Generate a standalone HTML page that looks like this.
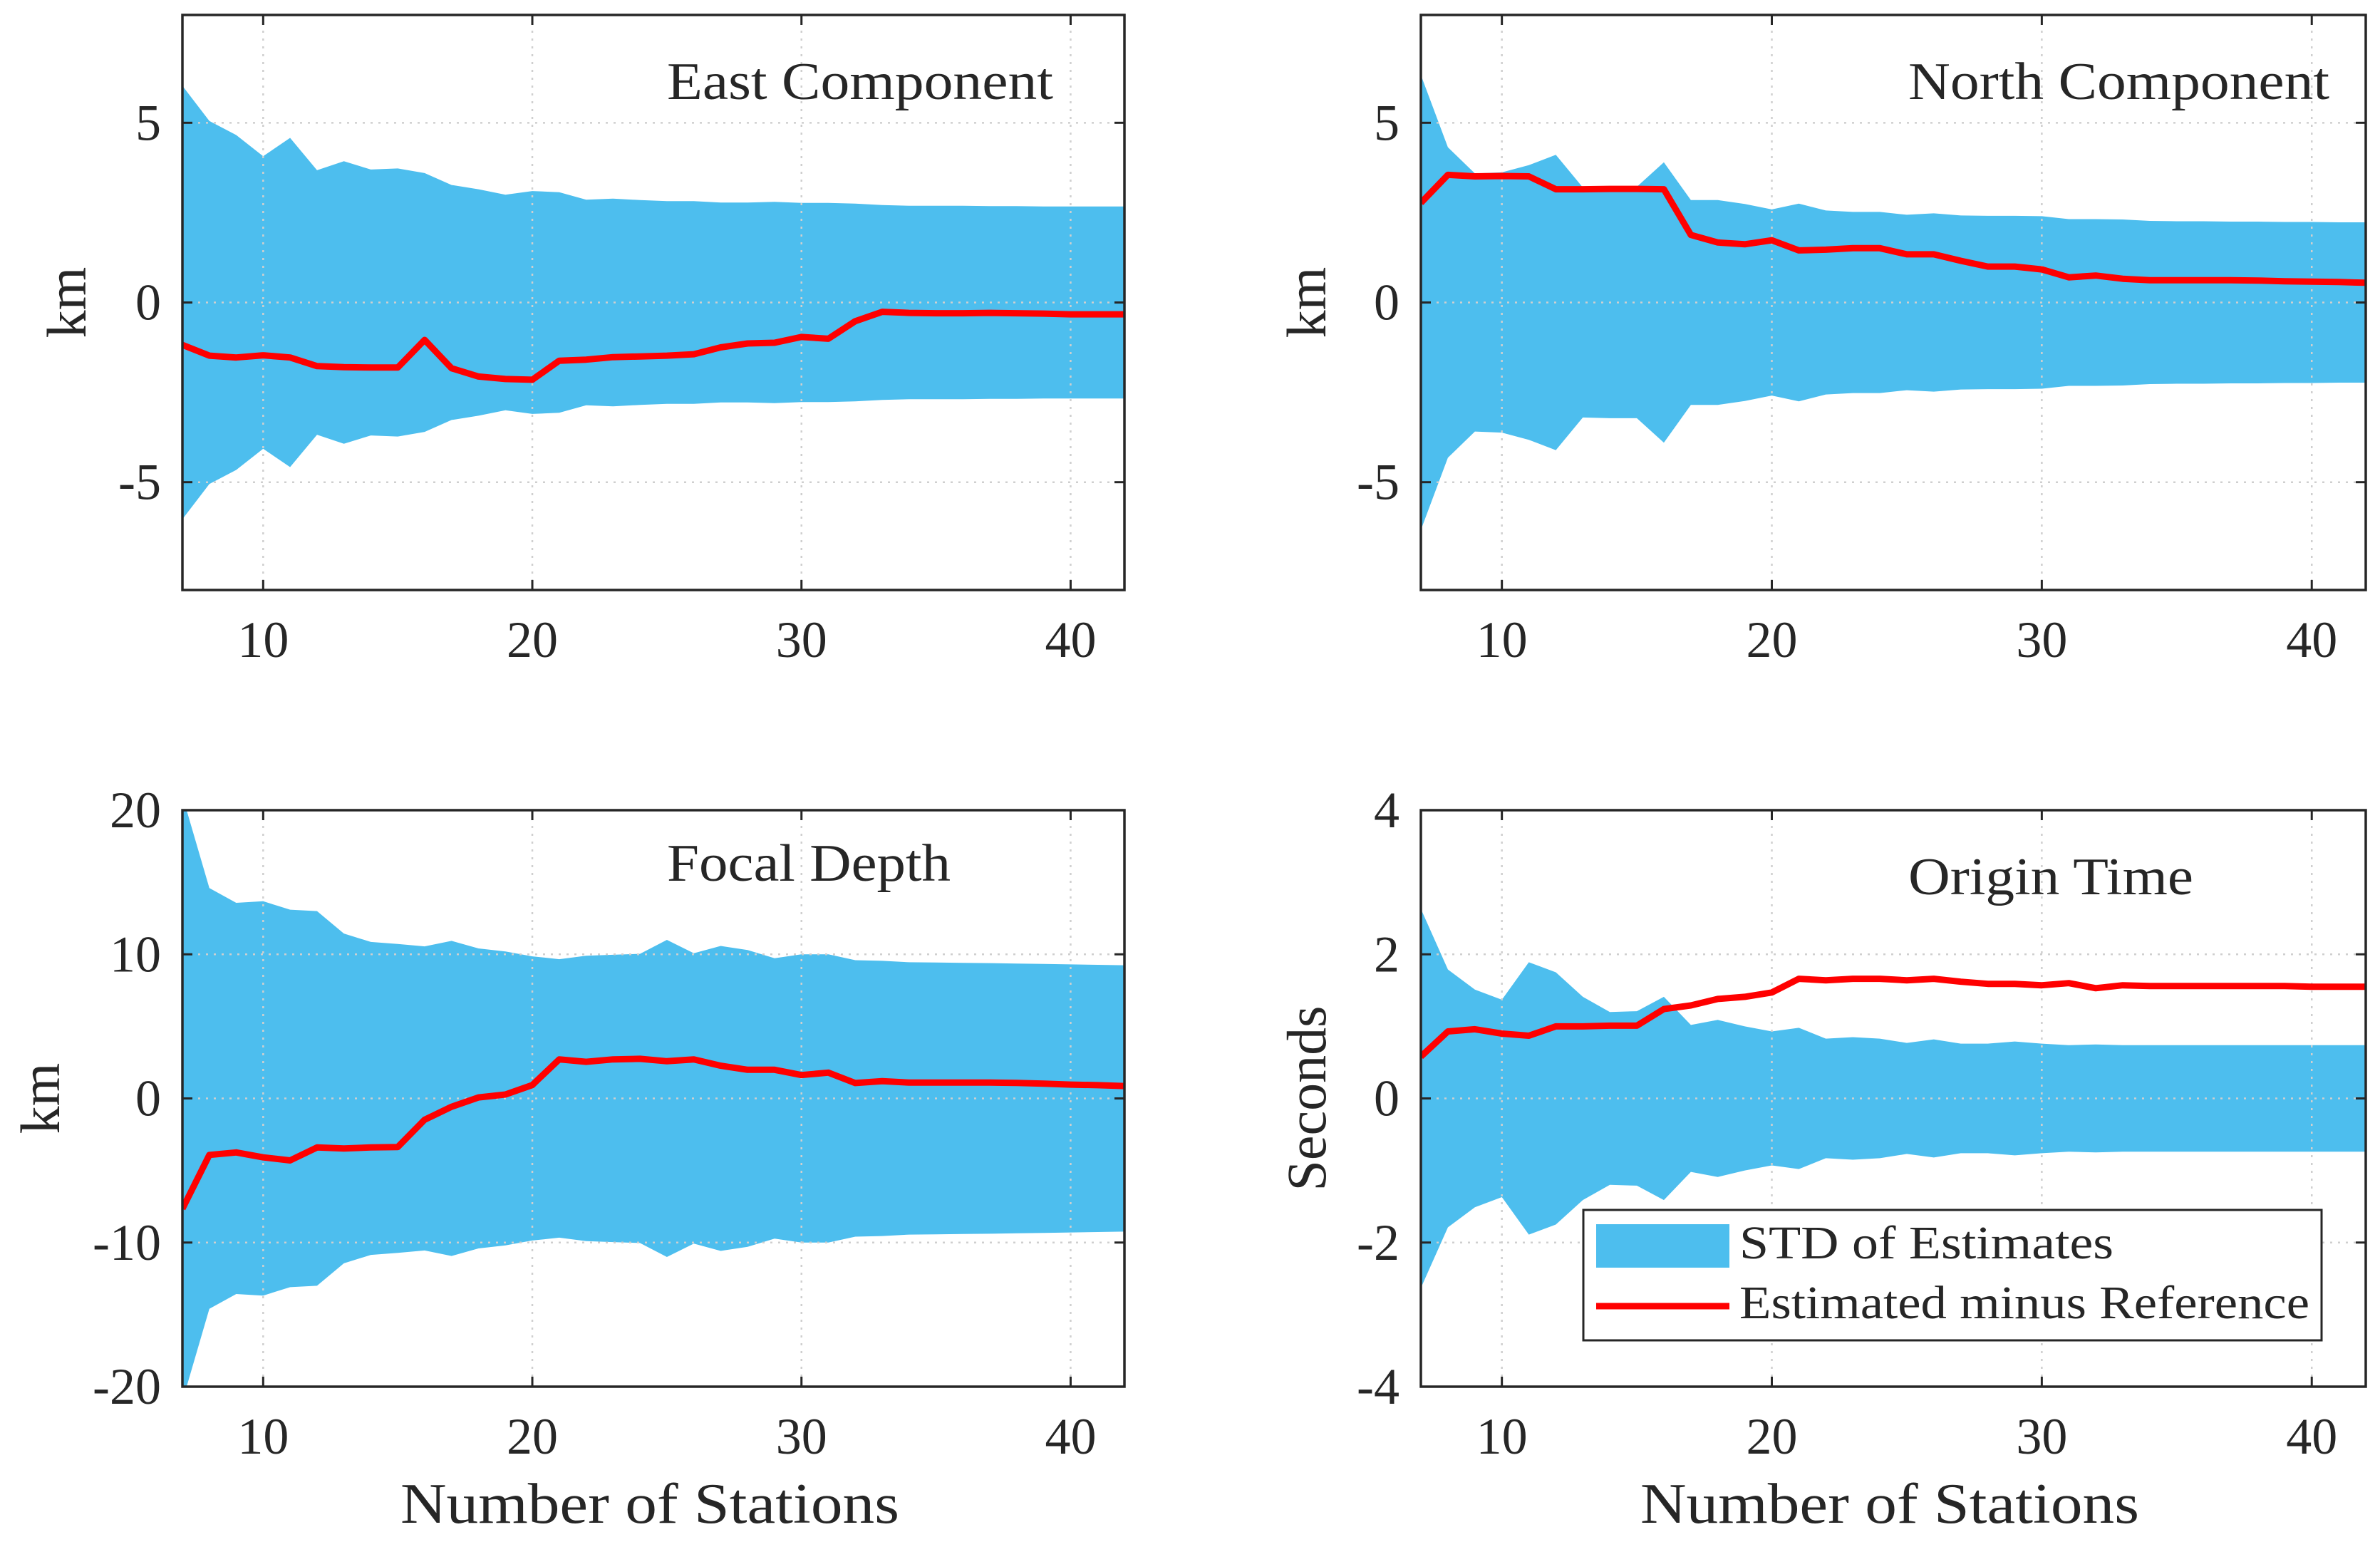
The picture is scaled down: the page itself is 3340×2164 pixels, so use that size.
<!DOCTYPE html>
<html><head><meta charset="utf-8"><style>
html,body{margin:0;padding:0;background:#fff}
svg{display:block}
text{font-family:"Liberation Serif",serif;fill:#262626}
</style></head><body>
<svg id="fig" width="3340" height="2164" viewBox="0 0 3340 2164" xmlns="http://www.w3.org/2000/svg"></svg>
<script>
const stations = [7,8,9,10,11,12,13,14,15,16,17,18,19,20,21,22,23,24,25,26,27,28,29,30,31,32,33,34,35,36,37,38,39,40,41,42];
const xTicks = [10,20,30,40];
const eastStd = [6.03,5.05,4.66,4.07,4.58,3.68,3.93,3.70,3.73,3.60,3.27,3.15,3.00,3.10,3.07,2.86,2.89,2.85,2.82,2.82,2.78,2.78,2.80,2.77,2.77,2.75,2.71,2.69,2.69,2.69,2.68,2.68,2.67,2.67,2.67,2.67];
const eastDiff = [-1.18,-1.48,-1.53,-1.47,-1.53,-1.77,-1.80,-1.81,-1.81,-1.04,-1.83,-2.06,-2.13,-2.15,-1.62,-1.59,-1.52,-1.50,-1.48,-1.44,-1.25,-1.14,-1.12,-0.96,-1.01,-0.52,-0.26,-0.29,-0.30,-0.30,-0.29,-0.30,-0.31,-0.33,-0.33,-0.33];
const northStd = [6.33,4.32,3.59,3.62,3.82,4.11,3.20,3.22,3.22,3.90,2.85,2.85,2.74,2.59,2.75,2.56,2.52,2.52,2.44,2.48,2.42,2.41,2.41,2.40,2.32,2.32,2.31,2.27,2.26,2.26,2.25,2.25,2.24,2.24,2.23,2.23];
const northDiff = [2.77,3.55,3.51,3.52,3.51,3.15,3.15,3.16,3.16,3.15,1.88,1.67,1.62,1.73,1.45,1.47,1.51,1.51,1.34,1.34,1.16,1.00,1.00,0.92,0.70,0.75,0.66,0.62,0.62,0.62,0.62,0.61,0.59,0.58,0.57,0.55];
const depthStd = [21,14.6,13.57,13.68,13.1,13.0,11.44,10.86,10.72,10.55,10.93,10.41,10.2,9.86,9.66,9.9,9.97,10.03,11.0,10.07,10.58,10.3,9.73,10.0,10.0,9.59,9.55,9.45,9.43,9.41,9.39,9.36,9.33,9.30,9.27,9.24];
const depthDiff = [-7.66,-3.92,-3.75,-4.09,-4.30,-3.40,-3.47,-3.40,-3.37,-1.48,-0.58,0.07,0.27,0.93,2.71,2.54,2.71,2.75,2.58,2.71,2.27,1.99,1.99,1.62,1.79,1.07,1.20,1.10,1.10,1.10,1.10,1.08,1.03,0.96,0.92,0.86];
const timeStd = [2.63,1.79,1.51,1.37,1.89,1.75,1.41,1.20,1.21,1.41,1.02,1.09,1.00,0.93,0.98,0.83,0.85,0.83,0.77,0.82,0.76,0.76,0.79,0.76,0.74,0.75,0.74,0.74,0.74,0.74,0.74,0.74,0.74,0.74,0.74,0.74];
const timeDiff = [0.58,0.93,0.96,0.90,0.87,1.00,1.00,1.01,1.01,1.24,1.29,1.38,1.41,1.47,1.66,1.64,1.66,1.66,1.64,1.66,1.62,1.59,1.59,1.57,1.60,1.53,1.57,1.56,1.56,1.56,1.56,1.56,1.56,1.55,1.55,1.55];
const kmTicks = [-5,0,5];
const depthTicks = [-20,-10,0,10,20];
const timeTicks = [-4,-2,0,2,4];

const NS = "http://www.w3.org/2000/svg";
const svg = document.getElementById('fig');
function mk(tag, attrs, parent){
  const e = document.createElementNS(NS, tag);
  for (const k in attrs) e.setAttribute(k, attrs[k]);
  (parent||svg).appendChild(e);
  return e;
}

const panels = [
  {id:'east', L:256, R:1578, T:21, B:828, ymin:-8, ymax:8, yt:kmTicks, std:eastStd, diff:eastDiff, title:'East Component', tx:936, ty:139, tw:542, ylab:'km', ylx:92, xlab:false},
  {id:'north', L:1994, R:3320, T:21, B:828, ymin:-8, ymax:8, yt:kmTicks, std:northStd, diff:northDiff, title:'North Component', tx:2678, ty:139, tw:591, ylab:'km', ylx:1832, xlab:false},
  {id:'depth', L:256, R:1578, T:1137, B:1946, ymin:-20, ymax:20, yt:depthTicks, std:depthStd, diff:depthDiff, title:'Focal Depth', tx:936, ty:1236, tw:398, ylab:'km', ylx:55, xlab:true},
  {id:'time', L:1994, R:3320, T:1137, B:1946, ymin:-4, ymax:4, yt:timeTicks, std:timeStd, diff:timeDiff, title:'Origin Time', tx:2678, ty:1255, tw:400, ylab:'Seconds', ylx:1832, xlab:true}
];

panels.forEach(p => {
  const g = mk('g', {});
  
  
  const xs = v => p.L + (v - 7) / (42 - 7) * (p.R - p.L);
  const ys = v => p.B - (v - p.ymin) / (p.ymax - p.ymin) * (p.B - p.T);
  const cp = mk('clipPath', {id:'clip-' + p.id}, g);
  mk('rect', {x:p.L, y:p.T, width:p.R-p.L, height:p.B-p.T}, cp);
  let pts = stations.map((s,i) => xs(s).toFixed(1) + ',' + ys(p.std[i]).toFixed(1));
  for (let i = stations.length - 1; i >= 0; i--) pts.push(xs(stations[i]).toFixed(1) + ',' + ys(-p.std[i]).toFixed(1));
  const band = mk('polygon', {points:pts.join(' '), fill:'#4DBEEE', 'clip-path':'url(#clip-' + p.id + ')'}, g);
  
  
  xTicks.forEach(t => {
    const gl = mk('line', {x1:xs(t), x2:xs(t), y1:p.T, y2:p.B, stroke:'#cfcfcf', 'stroke-width':2.5, 'stroke-dasharray':'3 8'}, g);
    
    
  });
  p.yt.forEach(t => {
    if (t <= p.ymin || t >= p.ymax) return;
    const gl = mk('line', {x1:p.L, x2:p.R, y1:ys(t), y2:ys(t), stroke:'#cfcfcf', 'stroke-width':2.5, 'stroke-dasharray':'3 8'}, g);
    
    
  });
  const lp = stations.map((s,i) => xs(s).toFixed(1) + ',' + ys(p.diff[i]).toFixed(1)).join(' ');
  const line = mk('polyline', {points:lp, fill:'none', stroke:'#FF0000', 'stroke-width':9, 'stroke-linejoin':'round', 'clip-path':'url(#clip-' + p.id + ')'}, g);
  
  
  const box = mk('rect', {x:p.L, y:p.T, width:p.R-p.L, height:p.B-p.T, fill:'none', stroke:'#262626', 'stroke-width':3.5}, g);
  
  
  xTicks.forEach(t => {
    mk('line', {x1:xs(t), x2:xs(t), y1:p.B, y2:p.B-14, stroke:'#262626', 'stroke-width':3}, g);
    mk('line', {x1:xs(t), x2:xs(t), y1:p.T, y2:p.T+14, stroke:'#262626', 'stroke-width':3}, g);
    const tl = mk('text', {x:xs(t), y:p.B + 94, 'font-size':72, 'text-anchor':'middle'}, g);
    tl.textContent = t;
    
    
  });
  p.yt.forEach(t => {
    mk('line', {x1:p.L, x2:p.L+14, y1:ys(t), y2:ys(t), stroke:'#262626', 'stroke-width':3}, g);
    mk('line', {x1:p.R, x2:p.R-14, y1:ys(t), y2:ys(t), stroke:'#262626', 'stroke-width':3}, g);
    const tl = mk('text', {x:p.L - 30, y:ys(t) + 24, 'font-size':72, 'text-anchor':'end'}, g);
    tl.textContent = t;
    
    
  });
  const ti = mk('text', {x:p.tx, y:p.ty, 'font-size':74, textLength:p.tw, lengthAdjust:'spacingAndGlyphs', fill:'#000'}, g);
  ti.textContent = p.title;
  
  
  const cy = (p.T + p.B) / 2;
  const yl = mk('text', {x:0, y:0, 'font-size':78, 'text-anchor':'middle', transform:'translate(' + (p.ylx + 28) + ',' + cy + ') rotate(-90)'}, g);
  yl.textContent = p.ylab;
  
  
  if (p.xlab) {
    const xl = mk('text', {x:(p.L + p.R) / 2 - 5, y:2137, 'font-size':80, 'text-anchor':'middle', textLength:700, lengthAdjust:'spacingAndGlyphs'}, g);
    xl.textContent = 'Number of Stations';
    
    
  }
});

const lg = mk('g', {});


mk('rect', {x:2222, y:1698, width:1036, height:183, fill:'#fff', stroke:'#262626', 'stroke-width':3}, lg);
const lp1 = mk('rect', {x:2240, y:1718, width:187, height:61, fill:'#4DBEEE'}, lg);


const lt1 = mk('text', {x:2441, y:1766, 'font-size':66, textLength:525, lengthAdjust:'spacingAndGlyphs', fill:'#000'}, lg);
lt1.textContent = 'STD of Estimates';


const lp2 = mk('line', {x1:2240, x2:2427, y1:1833, y2:1833, stroke:'#FF0000', 'stroke-width':9}, lg);


const lt2 = mk('text', {x:2441, y:1850, 'font-size':66, textLength:800, lengthAdjust:'spacingAndGlyphs', fill:'#000'}, lg);
lt2.textContent = 'Estimated minus Reference';


</script>
</body></html>
